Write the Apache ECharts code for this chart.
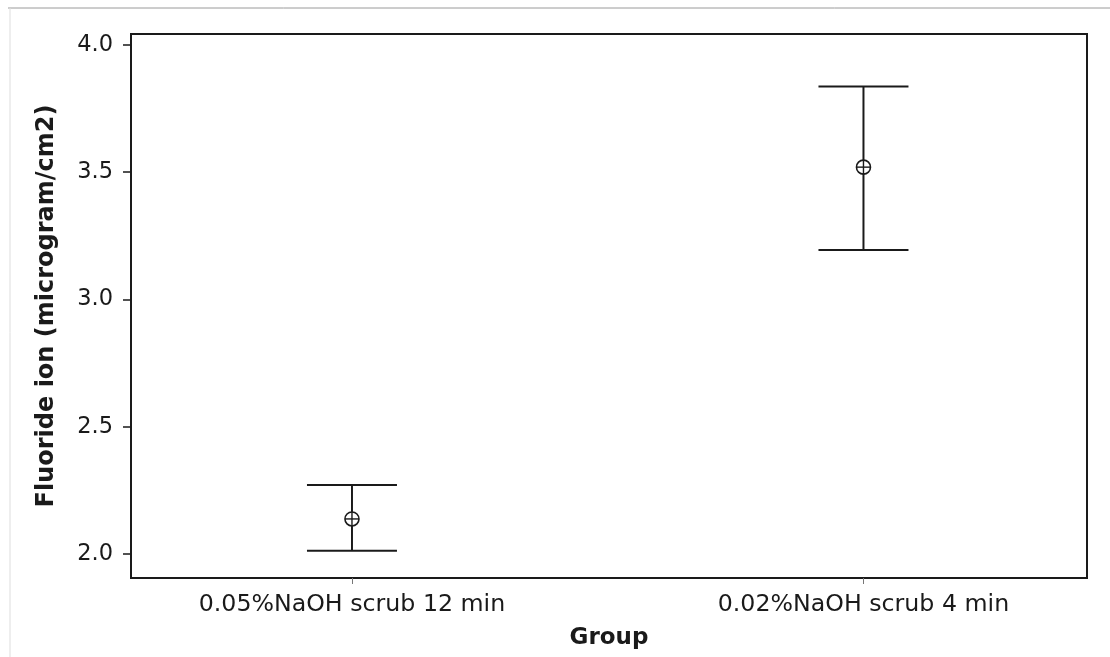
<!DOCTYPE html>
<html>
<head>
<meta charset="utf-8">
<script src="https://cdn.jsdelivr.net/npm/echarts@6/dist/echarts.min.js"></script>
<style>
html,body{margin:0;padding:0;background:#fff;}
#chart{width:1110px;height:657px;}
</style>
</head>
<body>
<div id="chart"></div>
<script>
// Data
var categories = ['0.05%NaOH scrub 12 min', '0.02%NaOH scrub 4 min'];
var means = [2.138, 3.52];
var lowers = [2.013, 3.194];
var uppers = [2.271, 3.837];
var yTicks = [2.0, 2.5, 3.0, 3.5, 4.0];
var xPositions = [1, 2];

var ebData = xPositions.map(function (x, i) { return [x, lowers[i], uppers[i], means[i]]; });

var chart = echarts.init(document.getElementById('chart'), null, { renderer: 'canvas' });
var FONT = 'DejaVu Sans';
var INK = '#1a1a1a';

chart.setOption({
  backgroundColor: '#ffffff',
  animation: false,
  graphic: [
    { type: 'line', shape: { x1: 8, y1: 8, x2: 1110, y2: 8 }, style: { stroke: '#9a9a9a', lineWidth: 1 }, silent: true },
    { type: 'line', shape: { x1: 10, y1: 8, x2: 10, y2: 657 }, style: { stroke: '#dddddd', lineWidth: 1 }, silent: true }
  ],
  grid: {
    left: 131, right: 23, top: 34, bottom: 79,
    show: true, borderColor: INK, borderWidth: 2, backgroundColor: 'transparent'
  },
  xAxis: {
    type: 'value',
    min: 0.568, max: 2.437,
    splitLine: { show: false },
    axisLine: { show: true, onZero: false, lineStyle: { color: INK, width: 2 } },
    axisTick: { show: true, customValues: xPositions, length: 6, lineStyle: { color: '#777', width: 1 } },
    axisLabel: {
      customValues: xPositions,
      formatter: function (v) { return categories[Math.round(v) - 1] || ''; },
      fontFamily: FONT, fontSize: 23.7, color: INK, margin: 15
    },
    name: 'Group',
    nameLocation: 'middle',
    nameGap: 49,
    nameTextStyle: { fontFamily: FONT, fontSize: 23, fontWeight: 'bold', color: INK }
  },
  yAxis: {
    type: 'value',
    min: 1.906, max: 4.043,
    splitLine: { show: false },
    axisLine: { show: true, onZero: false, lineStyle: { color: INK, width: 2 } },
    axisTick: { show: true, customValues: yTicks, length: 8, lineStyle: { color: INK, width: 1.5 } },
    axisLabel: {
      customValues: yTicks,
      formatter: function (v) { return v.toFixed(1); },
      fontFamily: FONT, fontSize: 22.5, color: INK, margin: 18
    },
    name: 'Fluoride ion (microgram/cm2)',
    nameLocation: 'middle',
    nameGap: 72,
    nameTextStyle: { fontFamily: FONT, fontSize: 24, fontWeight: 'bold', color: INK }
  },
  series: [{
    type: 'custom',
    data: ebData,
    renderItem: function (params, api) {
      var x = api.value(0);
      var lo = api.coord([x, api.value(1)]);
      var hi = api.coord([x, api.value(2)]);
      var mid = api.coord([x, api.value(3)]);
      var half = 45;
      var r = 7;
      var st = { stroke: INK, lineWidth: 2, fill: null };
      return {
        type: 'group',
        children: [
          { type: 'line', shape: { x1: hi[0], y1: hi[1], x2: mid[0], y2: mid[1] - r }, style: st },
          { type: 'line', shape: { x1: mid[0], y1: mid[1] + r, x2: lo[0], y2: lo[1] }, style: st },
          { type: 'line', shape: { x1: hi[0] - half, y1: hi[1], x2: hi[0] + half, y2: hi[1] }, style: st },
          { type: 'line', shape: { x1: lo[0] - half, y1: lo[1], x2: lo[0] + half, y2: lo[1] }, style: st },
          { type: 'circle', shape: { cx: mid[0], cy: mid[1], r: r }, style: { stroke: INK, lineWidth: 1.6, fill: '#fff' } },
          { type: 'line', shape: { x1: mid[0] - r, y1: mid[1], x2: mid[0] + r, y2: mid[1] }, style: { stroke: INK, lineWidth: 1.4 } },
          { type: 'line', shape: { x1: mid[0], y1: mid[1] - r, x2: mid[0], y2: mid[1] + r }, style: { stroke: INK, lineWidth: 1.4 } }
        ]
      };
    }
  }]
});
</script>
</body>
</html>
